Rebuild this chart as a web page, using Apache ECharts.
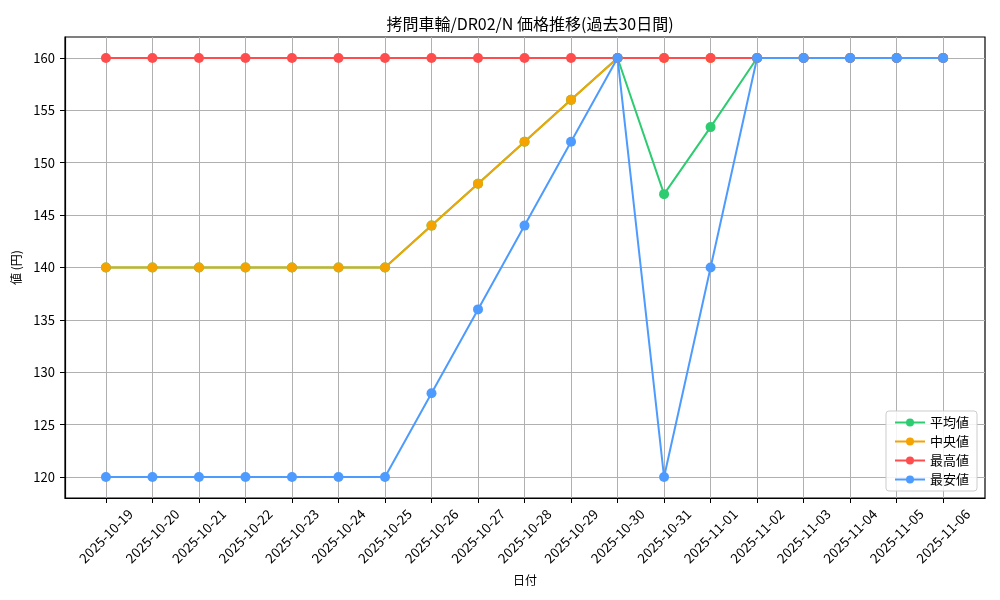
<!DOCTYPE html>
<html><head><meta charset="utf-8">
<script src="https://cdn.jsdelivr.net/npm/echarts@6/dist/echarts.min.js"></script>
<style>html,body{margin:0;padding:0;background:#fff}#c{width:1000px;height:600px}</style>
</head><body><div id="c"></div>
<script>
const dates = ['2025-10-19','2025-10-20','2025-10-21','2025-10-22','2025-10-23','2025-10-24','2025-10-25','2025-10-26','2025-10-27','2025-10-28','2025-10-29','2025-10-30','2025-10-31','2025-11-01','2025-11-02','2025-11-03','2025-11-04','2025-11-05','2025-11-06'];
const avgValues = [140,140,140,140,140,140,140,144,148,152,156,160,147,153.4,160,160,160,160,160];
const medianValues = [140,140,140,140,140,140,140,144,148,152,156,160,160,160,160,160,160,160,160];
const maxValues = [160,160,160,160,160,160,160,160,160,160,160,160,160,160,160,160,160,160,160];
const minValues = [120,120,120,120,120,120,120,128,136,144,152,160,120,140,160,160,160,160,160];
const yTicks = [120,125,130,135,140,145,150,155,160];

const FONT = '"Noto Sans CJK JP", sans-serif';
const xIdx = dates.map((d,i)=>i);
const chart = echarts.init(document.getElementById('c'));
function mk(name, vals, color){
  return {name, type:'line', data: vals.map((v,i)=>[i,v]), symbol:'circle', symbolSize:10,
    lineStyle:{width:2,color}, itemStyle:{color}, emphasis:{disabled:true}, animation:false};
}
chart.setOption({
  animation:false,
  textStyle:{fontFamily:FONT},
  title:{text:'拷問車輪/DR02/N 価格推移(過去30日間)', left:525, textAlign:'center', top:11,
    textStyle:{fontFamily:FONT,fontSize:16,fontWeight:'normal',color:'#000'}},
  grid:{left:65, right:15, top:37, bottom:102, show:true, borderColor:'#000', borderWidth:1.2},
  legend:{right:23, bottom:109, orient:'vertical', itemWidth:30, itemHeight:10, itemGap:6,
    backgroundColor:'rgba(255,255,255,0.85)', borderColor:'#ccc', borderWidth:1, borderRadius:3,
    padding:[5,8,5,8], textStyle:{fontFamily:FONT,fontSize:13,color:'#000'},
    data:['平均値','中央値','最高値','最安値']},
  xAxis:{type:'value', min:-0.88, max:18.9,
    name:'日付', nameLocation:'middle', nameGap:76, nameTextStyle:{fontFamily:FONT,fontSize:12,color:'#000'},
    axisLine:{show:true, onZero:false, lineStyle:{color:'#000',width:1.2}},
    axisTick:{show:true, length:5, lineStyle:{color:'#000'}, customValues:xIdx},
    splitLine:{show:true, lineStyle:{color:'#b0b0b0',width:1}},
    axisLabel:{rotate:45, fontFamily:FONT, fontSize:13.5, color:'#000', margin:38,
      align:'center', verticalAlign:'middle',
      customValues:xIdx, formatter:(v)=>dates[Math.round(v)]}
  },
  yAxis:{type:'value', min:118, max:162,
    name:'値 (円)', nameLocation:'middle', nameGap:43, nameRotate:90,
    nameTextStyle:{fontFamily:FONT,fontSize:12,color:'#000'},
    axisLine:{show:true, onZero:false, lineStyle:{color:'#000',width:1.2}},
    axisTick:{show:true,length:5,lineStyle:{color:'#000'},customValues:yTicks},
    splitLine:{show:true,lineStyle:{color:'#b0b0b0',width:1}},
    axisLabel:{fontFamily:FONT,fontSize:13,color:'#000',margin:10,customValues:yTicks}
  },
  series:[
    mk('平均値', avgValues, '#2ecc71'),
    mk('中央値', medianValues, '#f5a300'),
    mk('最高値', maxValues, '#ff4d4d'),
    mk('最安値', minValues, '#4d9bff')
  ]
});
</script></body></html>
